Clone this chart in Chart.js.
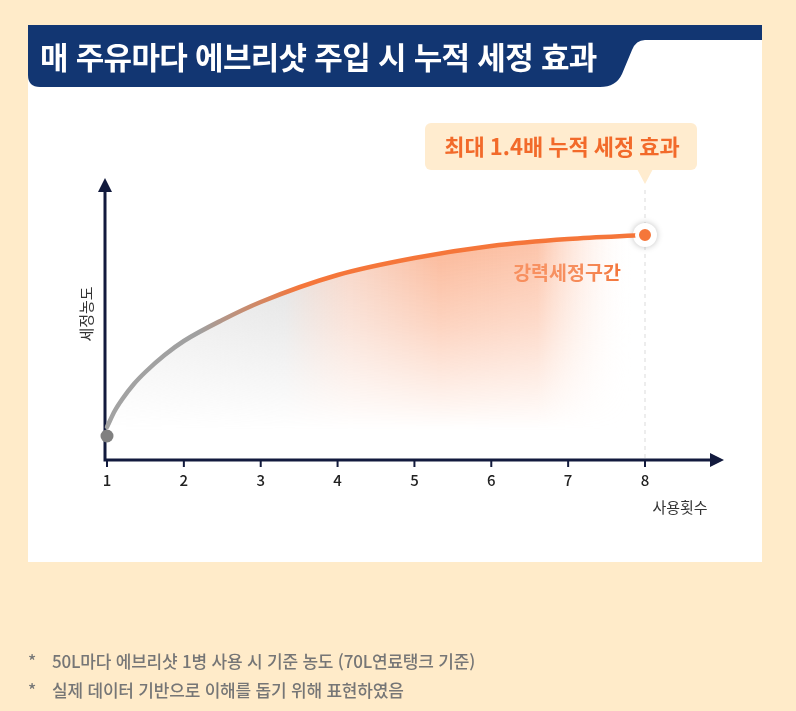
<!DOCTYPE html>
<html lang="ko">
<head>
<meta charset="utf-8">
<script src="https://cdn.jsdelivr.net/npm/chart.js@4/dist/chart.umd.min.js"></script>
<style>
    html, body { margin: 0; padding: 0; }
    body {
        width: 796px; height: 711px; position: relative; overflow: hidden;
        background: #ffebc9;
        font-family: "Noto Sans CJK KR", "Noto Sans", sans-serif;
    }
    .panel { position: absolute; left: 28px; top: 25px; width: 734px; height: 537px; background: #fff; }
    #chartCanvas { position: absolute; left: 0; top: 0; }
    .title {
        position: absolute; left: 40px; top: 35px; margin: 0;
        color: #fff; font-size: 31px; font-weight: 700; letter-spacing: -0.7px; line-height: 42px;
        z-index: 2;
    }
    .notes { position: absolute; left: 28px; top: 646px; color: #767676; font-size: 17px; font-weight: 500; line-height: 29px; letter-spacing: -0.2px; }
    .notes div span { display: inline-block; width: 24px; }
</style>
</head>
<body>
<div class="panel"></div>
<canvas id="chartCanvas" width="796" height="711"></canvas>
<h1 class="title">매 주유마다 에브리샷 주입 시 누적 세정 효과</h1>
<div class="notes">
    <div><span>*</span>50L마다 에브리샷 1병 사용 시 기준 농도 (70L연료탱크 기준)</div>
    <div><span>*</span>실제 데이터 기반으로 이해를 돕기 위해 표현하였음</div>
</div>
<script>
// values (y in arbitrary concentration units)
const usageTicks = [1, 2, 3, 4, 5, 6, 7, 8];
const usageCounts = [1, 1.1, 1.2, 1.35, 1.5, 1.75, 2, 2.5, 3, 4, 5, 6, 7, 8];
const concentration = [33, 49, 61, 76, 88, 105, 119, 140, 158, 185, 202, 214, 221, 225];
const startPoint = [1, 24];
const peakPoint = [8, 225];

const xAxisTitle = '사용횟수';
const yAxisTitle = '세정농도';
const calloutText = '최대 1.4배 누적 세정 효과';
const zoneText = '강력세정구간';

const ORANGE = '#f5763a';
const NAVY = '#121a3d';
const GRAY = '#a3a3a3';
const FONT = '"Noto Sans CJK KR", "Noto Sans", sans-serif';

// soft glow under the curve, used as fill pattern
function makeFillPattern(ctx) {
    const c = document.createElement('canvas');
    c.width = 796; c.height = 711;
    const g = c.getContext('2d');
    const h = g.createLinearGradient(107, 0, 645, 0);
    h.addColorStop(0.0, 'rgba(215,215,215,0.45)');
    h.addColorStop(0.33, 'rgba(220,220,220,0.9)');
    h.addColorStop(0.45, 'rgba(244,196,175,0.75)');
    h.addColorStop(0.62, 'rgba(250,165,125,0.8)');
    h.addColorStop(0.8, 'rgba(251,170,132,0.7)');
    h.addColorStop(0.98, 'rgba(255,255,255,0)');
    g.fillStyle = h;
    g.fillRect(0, 0, 796, 711);
    g.globalCompositeOperation = 'destination-in';
    const v = g.createLinearGradient(0, 240, 0, 430);
    v.addColorStop(0, 'rgba(0,0,0,1)');
    v.addColorStop(0.45, 'rgba(0,0,0,0.6)');
    v.addColorStop(1, 'rgba(0,0,0,0)');
    g.fillStyle = v;
    g.fillRect(0, 0, 796, 711);
    return ctx.createPattern(c, 'no-repeat');
}

const decorPlugin = {
    id: 'decor',
    beforeDraw(chart) {
        const ctx = chart.ctx;
        // title banner
        ctx.save();
        ctx.fillStyle = '#123672';
        ctx.beginPath();
        ctx.moveTo(28, 25);
        ctx.lineTo(762, 25);
        ctx.lineTo(762, 40);
        ctx.lineTo(645, 40);
        ctx.quadraticCurveTo(636, 40, 632, 50);
        ctx.lineTo(622, 74);
        ctx.quadraticCurveTo(616, 87, 600, 87);
        ctx.lineTo(40, 87);
        ctx.quadraticCurveTo(28, 87, 28, 75);
        ctx.closePath();
        ctx.fill();
        ctx.restore();
    },
    beforeDatasetsDraw(chart) {
        const ctx = chart.ctx;
        const x = chart.scales.x, y = chart.scales.y;
        const x0 = x.getPixelForValue(usageTicks[0]) - 2;
        const y0 = y.getPixelForValue(0);
        const px = x.getPixelForValue(peakPoint[0]);
        ctx.save();
        // dashed guide at the peak
        ctx.strokeStyle = '#dcdcdc';
        ctx.lineWidth = 1;
        ctx.setLineDash([4, 4]);
        ctx.beginPath();
        ctx.moveTo(px, 190);
        ctx.lineTo(px, y0);
        ctx.stroke();
        ctx.setLineDash([]);

        // axes with arrows
        ctx.strokeStyle = NAVY;
        ctx.fillStyle = NAVY;
        ctx.lineWidth = 3;
        ctx.beginPath();
        ctx.moveTo(x0, 190);
        ctx.lineTo(x0, y0);
        ctx.lineTo(712, y0);
        ctx.stroke();
        ctx.beginPath();
        ctx.moveTo(x0, 178); ctx.lineTo(x0 - 7, 192); ctx.lineTo(x0 + 7, 192); ctx.closePath();
        ctx.fill();
        ctx.beginPath();
        ctx.moveTo(724, y0); ctx.lineTo(710, y0 - 7); ctx.lineTo(710, y0 + 7); ctx.closePath();
        ctx.fill();

        // ticks + labels
        ctx.lineWidth = 2;
        ctx.font = '500 15px ' + FONT;
        ctx.textAlign = 'center';
        ctx.textBaseline = 'middle';
        usageTicks.forEach(t => {
            const tx = x.getPixelForValue(t);
            ctx.beginPath();
            ctx.moveTo(tx, y0);
            ctx.lineTo(tx, y0 + 7);
            ctx.stroke();
            ctx.fillStyle = '#222';
            ctx.fillText(String(t), tx, y0 + 20);
        });

        // axis titles
        ctx.fillStyle = '#333';
        ctx.font = '15px ' + FONT;
        ctx.fillText(xAxisTitle, 680, 507);
        ctx.save();
        ctx.translate(86, 314);
        ctx.rotate(-Math.PI / 2);
        ctx.fillText(yAxisTitle, 0, 0);
        ctx.restore();

        // callout
        ctx.fillStyle = '#ffeccf';
        ctx.beginPath();
        ctx.roundRect(425, 123, 272, 47, 6);
        ctx.fill();
        ctx.beginPath();
        ctx.moveTo(px - 8, 169); ctx.lineTo(px + 8, 169); ctx.lineTo(px, 184); ctx.closePath();
        ctx.fill();
        ctx.fillStyle = '#f26a2a';
        ctx.font = 'bold 22px ' + FONT;
        ctx.fillText(calloutText, 562, 147);

        // zone label
        ctx.font = 'bold 19.5px ' + FONT;
        ctx.fillStyle = '#f26a2a';
        ctx.fillText(zoneText, 567, 273);

        // shadow behind peak dot
        const py = y.getPixelForValue(peakPoint[1]);
        ctx.shadowColor = 'rgba(0,0,0,0.25)';
        ctx.shadowBlur = 6;
        ctx.fillStyle = '#fff';
        ctx.beginPath();
        ctx.arc(px, py, 12, 0, Math.PI * 2);
        ctx.fill();
        ctx.restore();
    }
};

const ctx = document.getElementById('chartCanvas').getContext('2d');
new Chart(ctx, {
    type: 'line',
    data: {
        datasets: [
            {
                data: [{ x: peakPoint[0], y: peakPoint[1] }],
                pointRadius: 8,
                pointBackgroundColor: ORANGE,
                pointBorderColor: '#fff',
                pointBorderWidth: 4,
                showLine: false,
                clip: false
            },
            {
                data: [{ x: startPoint[0], y: startPoint[1] }],
                pointRadius: 6.5,
                pointBackgroundColor: '#808080',
                pointBorderWidth: 0,
                showLine: false,
                clip: false
            },
            {
                data: usageCounts.map((u, i) => ({ x: u, y: concentration[i] })),
                borderWidth: 4.5,
                borderCapStyle: 'round',
                cubicInterpolationMode: 'monotone',
                pointRadius: 0,
                fill: 'origin',
                clip: false,
                borderColor: (c) => {
                    const area = c.chart.chartArea;
                    if (!area) return GRAY;
                    const g = c.chart.ctx.createLinearGradient(area.left, 0, area.right, 0);
                    g.addColorStop(0, GRAY);
                    g.addColorStop(0.17, '#a0a0a0');
                    g.addColorStop(0.36, ORANGE);
                    g.addColorStop(1, ORANGE);
                    return g;
                },
                backgroundColor: (c) => makeFillPattern(c.chart.ctx)
            }
        ]
    },
    options: {
        responsive: false,
        animation: false,
        layout: { padding: { left: 107, right: 151, top: 180, bottom: 251 } },
        plugins: { legend: { display: false }, tooltip: { enabled: false } },
        scales: {
            x: { type: 'linear', min: 1, max: 8, display: false },
            y: { min: 0, max: 280, display: false }
        }
    },
    plugins: [decorPlugin]
});
</script>
</body>
</html>
